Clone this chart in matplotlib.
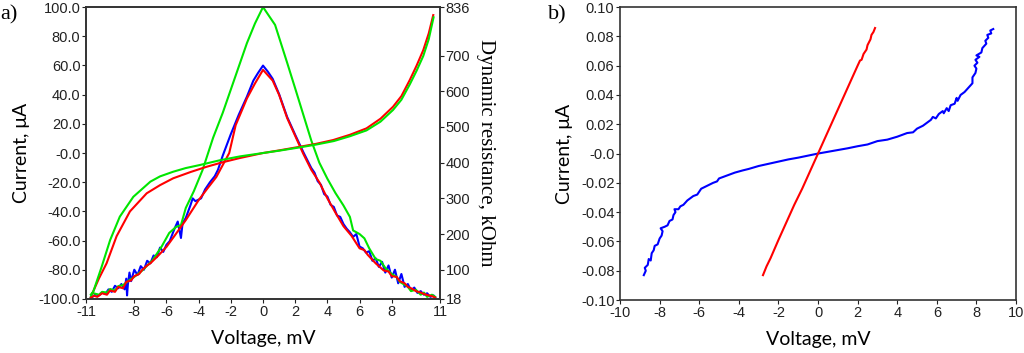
import matplotlib.pyplot as plt

# ---- panel a: I-V curves (left axis, uA) ----
iv_red_v = [-10.6, -10.2, -9.72, -9.1, -8.27, -7.23, -6.4, -5.58, -4.5, -3.5, -2.5, -1.43, 0,
            1.0, 2.29, 3.3, 4.36, 5.4, 6.43, 7.3, 8.08, 8.6, 9.12, 9.55, 9.96, 10.3, 10.58]
iv_red_i = [-96, -86, -75.5, -57, -40, -27.6, -22, -17.3, -13, -9.4, -6.3, -3.4, 0,
            1.8, 4.3, 6.3, 8.9, 12.5, 16.9, 23.5, 31.7, 39, 50, 60, 70.5, 82, 94.5]
iv_green_v = [-10.7, -10.55, -10.03, -9.5, -8.9, -8.06, -7.0, -6.4, -5.58, -4.8, -3.92, -2.7, -1.43, 0,
              1.0, 2.3, 3.3, 4.4, 5.4, 6.43, 7.3, 8.08, 8.6, 9.12, 9.55, 9.96, 10.3, 10.6]
iv_green_i = [-97, -95, -78, -59.6, -43.6, -30, -19.6, -16, -12.8, -10.3, -8.2, -5, -2.3, 0,
              1.6, 3.9, 5.8, 8.2, 11.5, 15.5, 21.5, 29.5, 36.5, 47, 56.5, 66.5, 78, 93]

# ---- panel a: dynamic resistance (right axis, kOhm) ----
r_blue_v = [-10.7, -10.6, -10.4, -10.2, -10.0, -9.8, -9.6, -9.4, -9.2, -9.0, -8.8, -8.6, -8.5, -8.45, -8.4, -8.3, -8.2,
            -8.0, -7.8, -7.6, -7.4, -7.2, -7.0, -6.8, -6.6, -6.4, -6.2, -6.0, -5.8, -5.5, -5.3, -5.1, -5.0, -4.8,
            -4.5, -4.37, -4.2, -3.85, -3.6, -3.3, -3.0, -2.8, -2.5, -2.0, -1.5, -1.0, -0.6, -0.3, 0,
            0.3, 0.6, 1.0, 1.5, 2.0, 2.5, 3.0, 3.2, 3.4, 3.6, 3.8, 4.0, 4.2, 4.4, 4.6, 4.8, 5.0, 5.2, 5.4,
            5.6, 5.8, 6.0, 6.2, 6.4, 6.6, 6.8, 7.0, 7.2, 7.4, 7.6, 7.8, 8.0, 8.2, 8.4, 8.6, 8.8, 9.0, 9.2,
            9.4, 9.6, 9.8, 10.0, 10.2, 10.4, 10.6, 10.7]
r_blue = [22, 24, 31, 28, 36, 32, 45, 38, 55, 48, 60, 45, 75, 28, 58, 92, 68,
          100, 85, 110, 100, 125, 118, 140, 135, 162, 150, 170, 180, 215, 235, 189, 230, 245,
          282, 300, 292, 300, 325, 345, 362, 380, 420, 480, 535, 585, 630, 652, 672,
          655, 635, 592, 528, 478, 430, 385, 372, 348, 338, 312, 305, 282, 276, 252, 248, 228, 215, 205,
          192, 200, 165, 160, 148, 152, 125, 132, 108, 122, 92, 112, 78, 100, 62, 88, 52, 60, 42,
          50, 35, 40, 30, 34, 24, 28, 22]
r_red_v = [-10.7, -10.5, -10.3, -10.0, -9.7, -9.5, -9.2, -9.0, -8.7, -8.5, -8.2, -8.0, -7.7, -7.5, -7.2, -7.0,
           -6.5, -6.0, -5.5, -4.8, -4.0, -3.5, -2.9, -2.1, -1.7, -1.0, -0.5, 0,
           0.6, 1.0, 1.5, 2.0, 2.5, 3.0, 3.5, 4.0, 4.5, 5.0, 5.5, 6.0, 6.3, 6.5, 7.0, 7.5, 7.8, 8.0,
           8.3, 8.5, 8.8, 9.0, 9.3, 9.5, 9.8, 10.0, 10.3, 10.5, 10.7]
r_red = [22, 27, 24, 34, 30, 42, 38, 52, 48, 66, 70, 82, 88, 100, 112, 118,
         140, 164, 195, 239, 295, 325, 360, 427, 505, 580, 622, 660,
         630, 590, 525, 475, 425, 380, 345, 300, 260, 222, 195, 160, 155, 142, 118, 98, 95, 82,
         80, 68, 62, 52, 46, 40, 36, 32, 28, 26, 22]
r_green_v = [-10.7, -10.6, -10.2, -10.0, -9.7, -9.5, -9.2, -9.0, -8.7, -8.3, -8.0, -7.5, -6.86, -6.3, -5.83,
             -5.4, -5.1, -4.8, -4.3, -3.76, -3.1, -2.5, -2.0, -1.5, -1.0, -0.5, 0,
             0.75, 1.5, 2.0, 2.5, 3.0, 3.5, 4.0, 4.5, 5.0, 5.4, 5.6, 5.8, 6.0, 6.3, 6.6, 7.0, 7.3, 7.6,
             8.0, 8.3, 8.5, 8.8, 9.0, 9.2, 9.5, 9.8, 10.0, 10.2, 10.5, 10.7]
r_green = [24, 35, 30, 38, 36, 46, 42, 54, 57, 71, 80, 98, 127, 165, 203,
           220, 225, 273, 320, 379, 470, 540, 605, 670, 735, 790, 836,
           786, 680, 608, 535, 462, 400, 355, 315, 280, 248, 210, 205, 200, 188, 160, 130, 125, 105,
           88, 80, 66, 58, 52, 40, 44, 30, 36, 24, 30, 24]

# ---- panel b: I-V ----
b_red_v = [-2.78, -2.6, -2.4, -2.0, -1.6, -1.2, -0.8, -0.4, 0, 0.4, 0.8, 1.2, 1.6, 2.0, 2.12, 2.2, 2.3,
           2.45, 2.5, 2.65, 2.7, 2.8, 2.88]
b_red_i = [-0.083, -0.077, -0.0715, -0.059, -0.047, -0.035, -0.024, -0.012, 0, 0.012, 0.024, 0.036, 0.048,
           0.060, 0.0635, 0.064, 0.068, 0.071, 0.074, 0.078, 0.081, 0.083, 0.0857]
b_blue_v = [-8.8, -8.7, -8.75, -8.6, -8.55, -8.45, -8.4, -8.3, -8.25, -8.1, -8.0, -7.9, -7.85, -7.95, -7.75,
            -7.6, -7.5, -7.35, -7.3, -7.2, -7.25, -7.05, -6.95, -6.8, -6.6, -6.5, -6.3, -6.1, -6.0, -5.9,
            -5.6, -5.3, -5.1, -5.0, -4.8, -4.5, -4.2, -3.8, -3.5, -3.0, -2.5, -2.0, -1.5, -1.0, -0.5, 0,
            0.5, 1.0, 1.5, 2.0, 2.5, 3.0, 3.5, 4.0, 4.5, 4.8, 5.0, 5.3, 5.5, 5.7, 5.8, 5.95, 6.1, 6.3,
            6.35, 6.5, 6.6, 6.7, 6.9, 7.0, 7.05, 7.2, 7.4, 7.6, 7.8, 7.8, 7.95, 8.0, 7.9, 8.05, 7.95,
            8.15, 8.0, 8.25, 8.3, 8.5, 8.45, 8.6, 8.55, 8.75, 8.7, 8.85]
b_blue_i = [-0.083, -0.080, -0.078, -0.076, -0.072, -0.073, -0.068, -0.066, -0.063, -0.062, -0.058, -0.056,
            -0.053, -0.051, -0.050, -0.049, -0.046, -0.045, -0.042, -0.040, -0.038, -0.038, -0.036, -0.035,
            -0.032, -0.031, -0.029, -0.028, -0.026, -0.024, -0.022, -0.020, -0.019, -0.017, -0.016, -0.0145,
            -0.013, -0.0115, -0.0105, -0.0085, -0.007, -0.0055, -0.004, -0.0028, -0.0014, 0,
            0.0012, 0.0024, 0.0036, 0.005, 0.0062, 0.0085, 0.0095, 0.0115, 0.014, 0.0145, 0.017, 0.019,
            0.021, 0.023, 0.025, 0.024, 0.027, 0.029, 0.0275, 0.031, 0.029, 0.033, 0.034, 0.038, 0.036,
            0.040, 0.042, 0.045, 0.048, 0.052, 0.055, 0.058, 0.060, 0.062, 0.064, 0.066, 0.067, 0.069,
            0.072, 0.075, 0.077, 0.079, 0.081, 0.082, 0.084, 0.085]

a_xticks = [-11, -8, -6, -4, -2, 0, 2, 4, 6, 8, 11]
a_yticks = [100, 80, 60, 40, 20, 0, -20, -40, -60, -80, -100]
a_ylabels = ['100.0', '80.0', '60.0', '40.0', '20.0', '-0.0', '-20.0', '-40.0', '-60.0', '-80.0', '-100.0']
a_rticks = [836, 700, 600, 500, 400, 300, 200, 100, 18]
b_xticks = [-10, -8, -6, -4, -2, 0, 2, 4, 6, 8, 10]
b_yticks = [0.10, 0.08, 0.06, 0.04, 0.02, 0.0, -0.02, -0.04, -0.06, -0.08, -0.10]
b_ylabels = ['0.10', '0.08', '0.06', '0.04', '0.02', '-0.0', '-0.02', '-0.04', '-0.06', '-0.08', '-0.10']

BLUE = '#0000ff'
RED = '#ff0000'
GREEN = '#00e600'
tickfont = 'Liberation Sans'
labfont = ['Lato', 'DejaVu Sans']

fig = plt.figure(figsize=(10.24, 3.53), dpi=100)
ax = fig.add_axes([0.084, 0.153, 0.3457, 0.827])
ax2 = ax.twinx()

ax2.plot(r_blue_v, r_blue, color=BLUE, lw=1.5)
ax2.plot(r_green_v, r_green, color=GREEN, lw=1.5)
ax2.plot(r_red_v, r_red, color=RED, lw=1.5)
ax.plot(iv_red_v, iv_red_i, color=RED, lw=1.5, zorder=3)
ax.plot(iv_green_v, iv_green_i, color=GREEN, lw=1.5, zorder=3)
ax.set_zorder(ax2.get_zorder() + 1)
ax.patch.set_visible(False)

ax.set_xlim(-11, 11)
ax.set_ylim(-100, 100)
ax2.set_ylim(18, 836)
ax.set_xticks(a_xticks)
ax.set_xticklabels([str(t) for t in a_xticks])
ax.set_yticks(a_yticks)
ax.set_yticklabels(a_ylabels)
ax2.set_yticks(a_rticks)
ax2.set_yticklabels([str(t) for t in a_rticks])

axb = fig.add_axes([0.6055, 0.150, 0.3867, 0.830])
axb.plot(b_blue_v, b_blue_i, color=BLUE, lw=1.5)
axb.plot(b_red_v, b_red_i, color=RED, lw=1.5)
axb.set_xlim(-10, 10)
axb.set_ylim(-0.10, 0.10)
axb.set_xticks(b_xticks)
axb.set_xticklabels([str(t) for t in b_xticks])
axb.set_yticks(b_yticks)
axb.set_yticklabels(b_ylabels)

for a in (ax, ax2, axb):
    a.tick_params(length=3, width=0.8, pad=1, labelsize=10.5, colors='#222222')
    for lab in a.get_xticklabels() + a.get_yticklabels():
        lab.set_family(tickfont)
    for s in a.spines.values():
        s.set_linewidth(1.2)
        s.set_color('#333333')

ax.set_xlabel('Voltage, mV', family=labfont, fontsize=14, labelpad=8)
ax.set_ylabel('Current, μA', family=labfont, fontsize=14, labelpad=6)
ax2.set_ylabel('Dynamic resistance, kOhm', family='Liberation Serif', fontsize=15, rotation=270, labelpad=18)
axb.set_xlabel('Voltage, mV', family=labfont, fontsize=14, labelpad=8)
axb.set_ylabel('Current, μA', family=labfont, fontsize=14, labelpad=6)

fig.text(0.0, 0.958, 'a)', family='Liberation Serif', fontsize=16, va='center')
fig.text(0.535, 0.958, 'b)', family='Liberation Serif', fontsize=16, va='center')

fig.savefig('out.png', dpi=100)
